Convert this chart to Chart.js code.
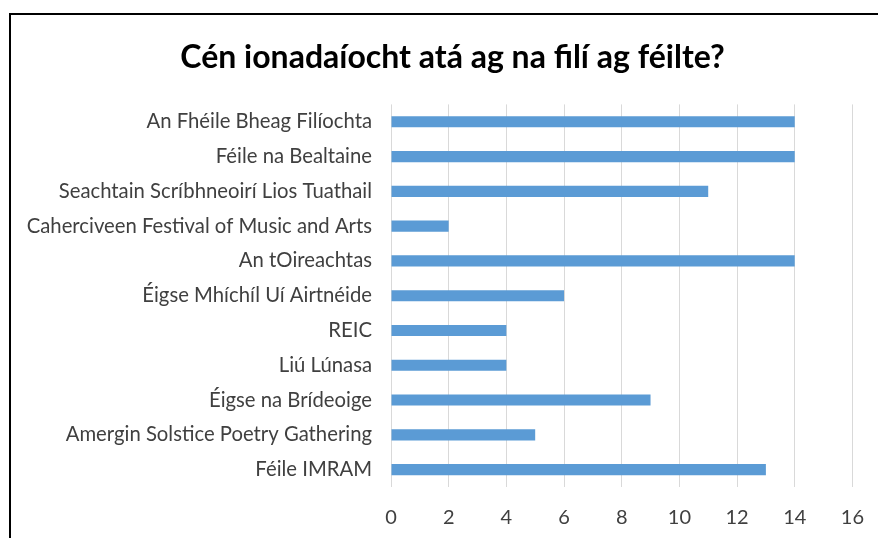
<!DOCTYPE html>
<html>
<head>
<meta charset="utf-8">
<script src="https://cdn.jsdelivr.net/npm/chart.js@4/dist/chart.umd.min.js"></script>
<style>
  html, body { margin: 0; padding: 0; background: #fff; overflow: hidden; }
  #frame { position: absolute; left: 9px; top: 13px; width: 900px; height: 600px; border: 2px solid #000; }
  #wrap { position: absolute; left: 0; top: 0; width: 883px; height: 538px; }
</style>
</head>
<body>
<div id="frame"></div>
<div id="wrap"><canvas id="myChart" width="883" height="538"></canvas></div>
<script>
// festival names, top to bottom
var festivals = [
    "An Fhéile Bheag Filíochta",
    "Féile na Bealtaine",
    "Seachtain Scríbhneoirí Lios Tuathail",
    "Caherciveen Festival of Music and Arts",
    "An tOireachtas",
    "Éigse Mhíchíl Uí Airtnéide",
    "REIC",
    "Liú Lúnasa",
    "Éigse na Brídeoige",
    "Amergin Solstice Poetry Gathering",
    "Féile IMRAM"
];
var poetCounts = [14, 14, 11, 2, 14, 6, 4, 4, 9, 5, 13];
var xTicks = [0, 2, 4, 6, 8, 10, 12, 14, 16];
var chartTitle = "Cén ionadaíocht atá ag na filí ag féilte?";

var fontFamily = "Lato, 'Open Sans', sans-serif";

window.showChart = function () {
    var ctx = document.getElementById('myChart').getContext('2d');
    new Chart(ctx, {
        type: 'bar',
        data: {
            labels: festivals,
            datasets: [{
                data: poetCounts,
                backgroundColor: '#5B9BD5',
                barPercentage: 0.32,
                categoryPercentage: 1.0
            }]
        },
        options: {
            indexAxis: 'y',
            responsive: false,
            animation: false,
            layout: { padding: { left: 22, right: 0, top: 0, bottom: 0 } },
            plugins: {
                legend: { display: false },
                tooltip: { enabled: false },
                title: {
                    display: true,
                    text: chartTitle,
                    color: '#000',
                    font: { family: fontFamily, size: 32, weight: 'bold' },
                    padding: { top: 38, bottom: 28 }
                }
            },
            scales: {
                x: {
                    min: 0,
                    max: 16,
                    afterBuildTicks: function (scale) {
                        scale.ticks = xTicks.map(function (v) { return { value: v }; });
                    },
                    afterFit: function (scale) { scale.height = 51; },
                    border: { display: false },
                    grid: { color: '#D9D9D9', drawTicks: false },
                    ticks: {
                        color: '#404040',
                        padding: 19,
                        font: { family: fontFamily, size: 20 }
                    }
                },
                y: {
                    afterFit: function (scale) { scale.width = 369; },
                    border: { display: false },
                    grid: { display: false, drawTicks: false },
                    ticks: {
                        color: '#404040',
                        padding: 19,
                        autoSkip: false,
                        font: { family: fontFamily, size: 20.3 }
                    }
                }
            }
        }
    });
};

window.showChart();
</script>
</body>
</html>
